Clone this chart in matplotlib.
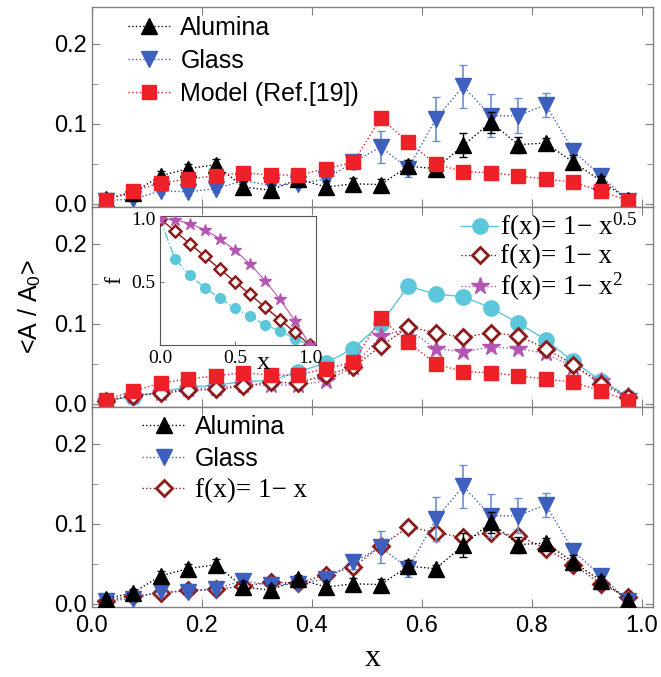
import matplotlib
matplotlib.use("Agg")
import matplotlib.pyplot as plt
from matplotlib.lines import Line2D
from matplotlib.ticker import MultipleLocator

# ------------------------------------------------------------
# data
# ------------------------------------------------------------
x_bins = [0.025, 0.075, 0.125, 0.175, 0.225, 0.275, 0.325, 0.375, 0.425, 0.475,
          0.525, 0.575, 0.625, 0.675, 0.725, 0.775, 0.825, 0.875, 0.925, 0.975]

alumina = [0.006, 0.014, 0.035, 0.044, 0.049, 0.021, 0.017, 0.031, 0.021, 0.025,
           0.024, 0.047, 0.044, 0.073, 0.102, 0.074, 0.076, 0.052, 0.029, 0.005]
alumina_err = [0.002, 0.004, 0.006, 0.006, 0.007, 0.007, 0.006, 0.005, 0.007, 0.007,
               0.007, 0.008, 0.005, 0.015, 0.013, 0.010, 0.006, 0.009, 0.006, 0.004]

glass = [0.004, 0.006, 0.016, 0.015, 0.019, 0.029, 0.023, 0.025, 0.031, 0.052,
         0.071, 0.044, 0.106, 0.147, 0.110, 0.110, 0.124, 0.066, 0.035, 0.004]
glass_err = [0.002, 0.003, 0.004, 0.004, 0.004, 0.005, 0.004, 0.004, 0.005, 0.009,
             0.020, 0.011, 0.028, 0.027, 0.027, 0.022, 0.015, 0.008, 0.006, 0.003]

model = [0.005, 0.016, 0.026, 0.031, 0.035, 0.039, 0.036, 0.036, 0.044, 0.052,
         0.107, 0.077, 0.050, 0.040, 0.039, 0.035, 0.031, 0.027, 0.016, 0.004]

f_sqrt = [0.004, 0.009, 0.015, 0.021, 0.023, 0.028, 0.029, 0.040, 0.051, 0.069,
          0.100, 0.147, 0.137, 0.134, 0.120, 0.101, 0.080, 0.053, 0.029, 0.008]
f_lin = [0.004, 0.010, 0.013, 0.017, 0.018, 0.022, 0.027, 0.026, 0.036, 0.046,
         0.072, 0.096, 0.089, 0.083, 0.089, 0.085, 0.069, 0.049, 0.025, 0.008]
f_sq = [0.004, 0.010, 0.014, 0.019, 0.020, 0.024, 0.023, 0.024, 0.028, 0.046,
        0.085, 0.093, 0.069, 0.065, 0.071, 0.069, 0.063, 0.046, 0.029, 0.010]

# inset: shape functions
x_in = [0.0, 0.1, 0.2, 0.3, 0.4, 0.5, 0.6, 0.7, 0.8, 0.9, 1.0]
in_sqrt = [1.00, 0.68, 0.55, 0.45, 0.37, 0.29, 0.23, 0.16, 0.11, 0.05, 0.00]
in_lin = [1.00, 0.90, 0.80, 0.70, 0.60, 0.50, 0.40, 0.30, 0.20, 0.10, 0.00]
in_sq = [1.00, 0.99, 0.96, 0.91, 0.84, 0.75, 0.64, 0.51, 0.36, 0.19, 0.00]

x_ticks = [0.0, 0.2, 0.4, 0.6, 0.8, 1.0]
y_ticks = [0.0, 0.1, 0.2]

# ------------------------------------------------------------
# styling
# ------------------------------------------------------------
SANS = "Liberation Sans"
SERIF = "Liberation Serif"
plt.rcParams["font.family"] = SANS
plt.rcParams["mathtext.fontset"] = "custom"
plt.rcParams["mathtext.rm"] = SERIF
plt.rcParams["mathtext.it"] = SERIF + ":italic"
plt.rcParams["mathtext.sf"] = SANS

C_ALU = "black"
C_GLASS = "#3d5fbd"
C_GLASS_ERR = "#6f8fd0"
C_MODEL = "#ee2028"
C_SQRT = "#5cc7da"
C_LIN = "#8c1a1a"
C_SQ = "#b455b4"
SPINE = "#808080"

TICK_FS = 17
LEG_FS = 18      # sans legend entries
SERIF_FS = 19.5  # serif legend entries

STY_ALU = dict(color=C_ALU, marker="^", ms=12, ls=":", lw=1.0)
STY_GLASS = dict(color=C_GLASS, marker="v", ms=12, ls=":", lw=1.0)
STY_MODEL = dict(color=C_MODEL, marker="s", ms=10, ls=":", lw=1.0)
STY_LIN = dict(color=C_LIN, marker="D", ms=8, mfc="white", mew=2, ls=":", lw=1.0)
STY_SQRT = dict(color=C_SQRT, marker="o", ms=11, ls="-", lw=1.0)
STY_SQ = dict(color=C_SQ, marker="*", ms=13, ls=":", lw=1.0)

LBL_LIN = "f(x)= 1\u2212 x"

W, H = 661, 677
fig = plt.figure(figsize=(W / 100, H / 100), dpi=100)

left, right = 92 / W, 653 / W
top_px, panel_h = 7, 200
axes = []
for i in range(3):
    y0 = 1 - (top_px + (i + 1) * panel_h) / H
    axes.append(fig.add_axes([left, y0, right - left, panel_h / H]))


def style_axis(ax, show_xlabels):
    ax.set_xlim(0, 1.02)
    ax.set_ylim(-0.004, 0.246)
    ax.set_xticks(x_ticks)
    ax.set_yticks(y_ticks)
    ax.yaxis.set_minor_locator(MultipleLocator(0.05))
    ax.tick_params(which="both", direction="in", top=True, right=True,
                   labelsize=TICK_FS, color=SPINE)
    ax.tick_params(which="major", length=6)
    ax.tick_params(which="minor", length=4)
    ax.tick_params(axis="x", pad=6)
    for s in ax.spines.values():
        s.set_color(SPINE)
        s.set_linewidth(1.0)
    if not show_xlabels:
        ax.tick_params(labelbottom=False)


def plot_alumina(ax):
    ax.errorbar(x_bins, alumina, yerr=alumina_err, ecolor=C_ALU, elinewidth=1.0,
                capsize=3, zorder=4, **STY_ALU)


def plot_glass(ax):
    ax.errorbar(x_bins, glass, yerr=glass_err, ecolor=C_GLASS_ERR, elinewidth=1.2,
                capsize=3, zorder=3, **STY_GLASS)


def handle(sty):
    return Line2D([], [], **sty)


def add_legend(ax, handles, labels, serif_idx, **kw):
    leg = ax.legend(handles, labels, frameon=False, fontsize=LEG_FS,
                    borderpad=0, borderaxespad=0, **kw)
    for i, t in enumerate(leg.get_texts()):
        if i in serif_idx:
            t.set_fontfamily(SERIF)
            t.set_fontsize(SERIF_FS)
    return leg


# ---------------- top panel ----------------
ax = axes[0]
plot_glass(ax)
plot_alumina(ax)
ax.plot(x_bins, model, zorder=5, **STY_MODEL)
style_axis(ax, False)
add_legend(ax, [handle(STY_ALU), handle(STY_GLASS), handle(STY_MODEL)],
           ["Alumina", "Glass", "Model (Ref.[19])"], [],
           loc="upper left", bbox_to_anchor=(0.064, 0.955),
           handlelength=1.7, handletextpad=0.4, labelspacing=0.35)

# ---------------- middle panel ----------------
ax = axes[1]
ax.plot(x_bins, f_sqrt, zorder=2, **STY_SQRT)
ax.plot(x_bins, f_sq, zorder=3, **STY_SQ)
ax.plot(x_bins, f_lin, zorder=4, **STY_LIN)
ax.plot(x_bins, model, zorder=5, **STY_MODEL)
style_axis(ax, False)
add_legend(ax, [handle(STY_SQRT), handle(STY_LIN), handle(STY_SQ)],
           ["f(x)= 1\u2212 x$^{0.5}$", LBL_LIN, "f(x)= 1\u2212 x$^{2}$"], [0, 1, 2],
           loc="upper right", bbox_to_anchor=(0.971, 0.98),
           handlelength=1.5, handletextpad=0.05, labelspacing=0.05)
ax.set_ylabel("<A / A$_\\mathsf{0}$>", fontsize=18, fontfamily=SANS, labelpad=8)

# inset
ins = fig.add_axes([160 / W, 1 - 345 / H, 156 / W, 129 / H])
ins.plot(x_in, in_sqrt, color=C_SQRT, marker="o", ms=7, ls="-.", lw=1.0, zorder=2)
ins.plot(x_in, in_lin, color=C_LIN, marker="D", ms=6, mfc="white", mew=1.8,
         ls="-", lw=1.0, zorder=3)
ins.plot(x_in, in_sq, color=C_SQ, marker="*", ms=9, ls="-", lw=0.8, zorder=4)
ins.set_xlim(0, 1.04)
ins.set_ylim(0, 1.02)
ins.set_xticks([0.0, 0.5, 1.0])
ins.set_yticks([0.5, 1.0])
ins.tick_params(direction="in", labelsize=14, length=3, color=SPINE)
for lab in ins.get_xticklabels() + ins.get_yticklabels():
    lab.set_fontfamily(SERIF)
for s in ins.spines.values():
    s.set_color("#555555")
ins.set_ylabel("f", fontsize=17, fontfamily=SERIF, labelpad=4)
ins.text(0.66, -0.14, "x", transform=ins.transAxes, fontsize=19,
         fontfamily=SERIF, ha="center", va="center")

# ---------------- bottom panel ----------------
ax = axes[2]
ax.plot(x_bins, f_lin, zorder=2, **STY_LIN)
plot_glass(ax)
plot_alumina(ax)
style_axis(ax, True)
add_legend(ax, [handle(STY_ALU), handle(STY_GLASS), handle(STY_LIN)],
           ["Alumina", "Glass", LBL_LIN], [2],
           loc="upper left", bbox_to_anchor=(0.09, 0.96),
           handlelength=1.7, handletextpad=0.4, labelspacing=0.3)
ax.set_xlabel("x", fontsize=23, fontfamily=SERIF, labelpad=5)

fig.savefig("out.png", dpi=100)
